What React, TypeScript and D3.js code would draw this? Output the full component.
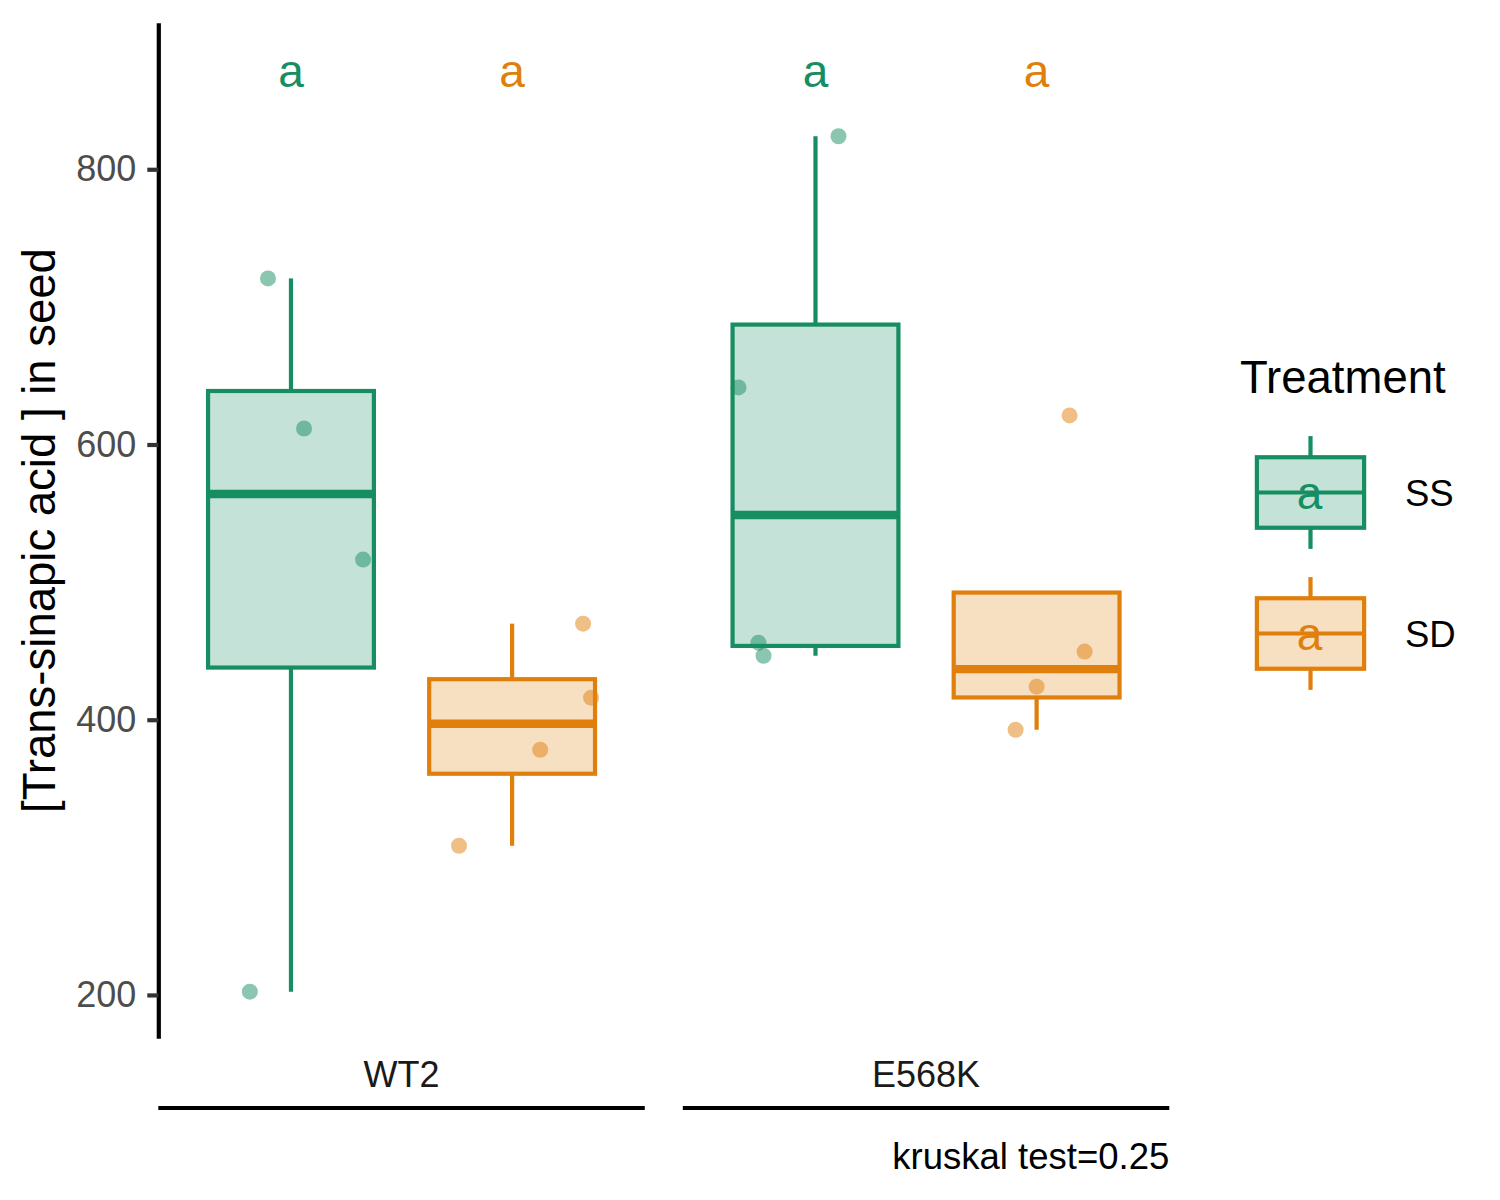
import * as d3 from 'd3';
import React, { useEffect, useRef } from 'react';

// facets, groups and colours
const genotypes = ['WT2', 'E568K'];
const treatments = ['SS', 'SD'];
const treatmentColors = ['#178D62', '#E07F0C'];

// values (one array per box)
const wt2SS = [720.7, 611.6, 516.4, 202.4];
const wt2SD = [469.8, 416.0, 378.2, 308.4];
const e568kSS = [824.0, 641.5, 456.0, 446.5];
const e568kSD = [621.1, 449.5, 424.0, 392.7];

// horizontal jitter of each point, in units of the x step
const wt2SSJitter = [-0.104, 0.059, 0.326, -0.186];
const wt2SDJitter = [0.321, 0.357, 0.127, -0.24];
const e568kSSJitter = [0.104, -0.348, -0.258, -0.235];
const e568kSDJitter = [0.149, 0.217, 0.0, -0.095];

// significance letters and where they sit
const groupLetters = ['a', 'a', 'a', 'a'];
const letterY = 870;

const yTicks = [200, 400, 600, 800];
const yDomain = [168.5, 906.5];
const yTitle = '[Trans-sinapic acid ] in seed';
const legendTitle = 'Treatment';
const caption = 'kruskal test=0.25';

const groups = [
	{ genotype: 'WT2', treatment: 'SS', values: wt2SS, jitter: wt2SSJitter, letter: groupLetters[0] },
	{ genotype: 'WT2', treatment: 'SD', values: wt2SD, jitter: wt2SDJitter, letter: groupLetters[1] },
	{ genotype: 'E568K', treatment: 'SS', values: e568kSS, jitter: e568kSSJitter, letter: groupLetters[2] },
	{ genotype: 'E568K', treatment: 'SD', values: e568kSD, jitter: e568kSDJitter, letter: groupLetters[3] },
];

const FONT = '"Liberation Sans", Arial, Helvetica, sans-serif';

// ggplot-style box stats (type 7 quantiles, 1.5 IQR whiskers)
const boxStats = (vals: number[]) => {
	const s = [...vals].sort(d3.ascending);
	const q1 = d3.quantile(s, 0.25) as number;
	const med = d3.quantile(s, 0.5) as number;
	const q3 = d3.quantile(s, 0.75) as number;
	const iqr = q3 - q1;
	const lo = d3.min(s.filter((v) => v >= q1 - 1.5 * iqr)) as number;
	const hi = d3.max(s.filter((v) => v <= q3 + 1.5 * iqr)) as number;
	return { q1, med, q3, lo, hi };
};

const BoxChart = () => {
	const svgRef = useRef(null);

	useEffect(() => {
		document.body.style.margin = '0';
		const width = 1500;
		const height = 1200;
		const panel = { top: 22.7, bottom: 1038.3, left: 158.3, right: 1169.3 };
		const lw = 4.2;

		const svg = d3.select(svgRef.current)
			.attr('width', width)
			.attr('height', height);

		const color = d3.scaleOrdinal<string, string>().domain(treatments).range(treatmentColors);

		const y = d3.scaleLinear()
			.domain(yDomain)
			.range([panel.bottom, panel.top]);

		const facet = d3.scaleBand()
			.domain(genotypes)
			.range([panel.left, panel.right])
			.paddingInner(0.0725);

		const xFor = (g: string) => d3.scalePoint()
			.domain(treatments)
			.range([facet(g) as number, (facet(g) as number) + facet.bandwidth()])
			.padding(0.6);

		// y axis
		const axis = svg.append('g')
			.attr('transform', `translate(${panel.left},0)`)
			.call(d3.axisLeft(y).tickValues(yTicks).tickSize(11).tickPadding(11).tickSizeOuter(0));
		axis.select('.domain').attr('stroke', '#000').attr('stroke-width', lw);
		axis.selectAll('.tick line').attr('stroke', '#333').attr('stroke-width', lw);
		axis.selectAll('.tick text')
			.attr('fill', '#4D4D4D')
			.style('font-size', '36px')
			.style('font-family', FONT);

		svg.append('text')
			.attr('transform', `translate(55, ${(panel.top + panel.bottom) / 2}) rotate(-90)`)
			.attr('text-anchor', 'middle')
			.style('font-size', '45.5px')
			.style('font-family', FONT)
			.attr('fill', '#000')
			.text(yTitle);

		// boxes, points, letters
		groups.forEach((g) => {
			const xs = xFor(g.genotype);
			const cx = xs(g.treatment) as number;
			const step = xs.step();
			const bw = step * 0.75;
			const c = color(g.treatment);
			const st = boxStats(g.values);
			const gg = svg.append('g');

			if (st.hi > st.q3) {
				gg.append('line')
					.attr('x1', cx).attr('x2', cx)
					.attr('y1', y(st.q3)).attr('y2', y(st.hi))
					.attr('stroke', c).attr('stroke-width', lw);
			}
			if (st.lo < st.q1) {
				gg.append('line')
					.attr('x1', cx).attr('x2', cx)
					.attr('y1', y(st.q1)).attr('y2', y(st.lo))
					.attr('stroke', c).attr('stroke-width', lw);
			}
			gg.append('rect')
				.attr('x', cx - bw / 2)
				.attr('y', y(st.q3))
				.attr('width', bw)
				.attr('height', y(st.q1) - y(st.q3))
				.attr('fill', c)
				.attr('fill-opacity', 0.25)
				.attr('stroke', c)
				.attr('stroke-width', lw);
			gg.append('line')
				.attr('x1', cx - bw / 2).attr('x2', cx + bw / 2)
				.attr('y1', y(st.med)).attr('y2', y(st.med))
				.attr('stroke', c).attr('stroke-width', lw * 2);

			gg.selectAll('circle')
				.data(g.values.map((v, i) => ({ v, j: g.jitter[i] })))
				.join('circle')
				.attr('cx', (d) => cx + d.j * step)
				.attr('cy', (d) => y(d.v))
				.attr('r', 8)
				.attr('fill', c)
				.attr('fill-opacity', 0.5);

			gg.append('text')
				.attr('x', cx)
				.attr('y', y(letterY))
				.attr('dy', '0.3em')
				.attr('text-anchor', 'middle')
				.attr('fill', c)
				.style('font-size', '46px')
				.style('font-family', FONT)
				.text(g.letter);
		});

		// facet strips underneath
		genotypes.forEach((g) => {
			const x0 = facet(g) as number;
			svg.append('text')
				.attr('x', x0 + facet.bandwidth() / 2)
				.attr('y', 1086.7)
				.attr('text-anchor', 'middle')
				.style('font-size', '36px')
				.style('font-family', FONT)
				.attr('fill', '#1A1A1A')
				.text(g);
			svg.append('line')
				.attr('x1', x0).attr('x2', x0 + facet.bandwidth())
				.attr('y1', 1108).attr('y2', 1108)
				.attr('stroke', '#000').attr('stroke-width', lw);
		});

		svg.append('text')
			.attr('x', panel.right)
			.attr('y', 1169)
			.attr('text-anchor', 'end')
			.style('font-size', '36.5px')
			.style('font-family', FONT)
			.attr('fill', '#000')
			.text(caption);

		// legend
		const leg = svg.append('g').attr('transform', 'translate(1239, 0)');
		leg.append('text')
			.attr('x', 1)
			.attr('y', 393)
			.style('font-size', '45.5px')
			.style('font-family', FONT)
			.attr('fill', '#000')
			.text(legendTitle);

		const keyW = 143;
		const keyH = 141;
		treatments.forEach((t, i) => {
			const c = color(t);
			const top = 422 + i * keyH;
			const k = leg.append('g').attr('transform', `translate(0, ${top})`);
			k.append('line')
				.attr('x1', keyW / 2).attr('x2', keyW / 2)
				.attr('y1', keyH * 0.1).attr('y2', keyH * 0.25)
				.attr('stroke', c).attr('stroke-width', lw);
			k.append('line')
				.attr('x1', keyW / 2).attr('x2', keyW / 2)
				.attr('y1', keyH * 0.75).attr('y2', keyH * 0.9)
				.attr('stroke', c).attr('stroke-width', lw);
			k.append('rect')
				.attr('x', keyW * 0.125)
				.attr('y', keyH * 0.25)
				.attr('width', keyW * 0.75)
				.attr('height', keyH * 0.5)
				.attr('fill', c)
				.attr('fill-opacity', 0.25)
				.attr('stroke', c)
				.attr('stroke-width', lw);
			k.append('line')
				.attr('x1', keyW * 0.125).attr('x2', keyW * 0.875)
				.attr('y1', keyH / 2).attr('y2', keyH / 2)
				.attr('stroke', c).attr('stroke-width', lw);
			k.append('text')
				.attr('x', keyW / 2 - 1)
				.attr('y', keyH / 2)
				.attr('dy', '0.36em')
				.attr('text-anchor', 'middle')
				.attr('fill', c)
				.style('font-size', '46px')
				.style('font-family', FONT)
				.text(groupLetters[0]);
			k.append('text')
				.attr('x', 166)
				.attr('y', keyH / 2)
				.attr('dy', '0.36em')
				.style('font-size', '36.5px')
				.style('font-family', FONT)
				.attr('fill', '#000')
				.text(t);
		});

		return () => {
			d3.select(svgRef.current).selectAll('*').remove();
		};
	}, []);

	return <svg ref={svgRef} style={{ display: 'block' }} />;
};

export default function App() {
	return <BoxChart />;
}
